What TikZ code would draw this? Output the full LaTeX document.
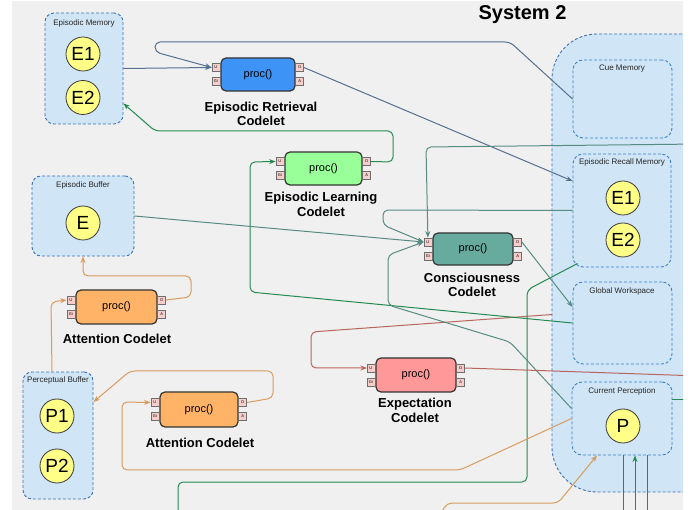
\documentclass[tikz,border=0pt]{standalone}
\usepackage{fontspec}
\setmainfont{Liberation Sans}
\usetikzlibrary{arrows.meta,calc}
\definecolor{bgGray}{HTML}{F0F0F0}
\definecolor{contFill}{HTML}{D0E5F5}
\definecolor{contDraw}{HTML}{3F72B0}
\definecolor{innerDraw}{HTML}{3E7FCC}
\definecolor{circFill}{HTML}{FFFF88}
\definecolor{circDraw}{HTML}{3A3A3A}
\definecolor{portFill}{HTML}{F8CECC}
\definecolor{portDraw}{HTML}{6E6E6E}
\definecolor{cRet}{HTML}{3D94F6}
\definecolor{cLearn}{HTML}{99FF99}
\definecolor{cCons}{HTML}{67AB9F}
\definecolor{cExp}{HTML}{FF9999}
\definecolor{cAtt}{HTML}{FFB366}
\definecolor{lineBlue}{HTML}{56708F}
\definecolor{lineGreen}{HTML}{238A53}
\definecolor{lineTeal}{HTML}{588C83}
\definecolor{lineRed}{HTML}{B86560}
\definecolor{lineOrange}{HTML}{D89C5E}
\newcommand\mkcodelet[6]{%
  \node[codelet, fill=#6, minimum width=#4, minimum height=#5] (#1) at (#2,#3) {proc()};
  \node[port] (#1U) at ($(#1.west)+(-4.5,-7)$) {U};
  \node[port] (#1G) at ($(#1.west)+(-4.5,7)$) {Gi};
  \node[port] (#1O) at ($(#1.east)+(4,-7)$) {O};
  \node[port] (#1A) at ($(#1.east)+(4,7)$) {A};
}
\begin{document}
\begin{tikzpicture}[x=1pt,y=-1pt,
  cont/.style={draw=contDraw, fill=contFill, dash pattern=on 3pt off 2pt, line width=0.9pt, rounded corners=9pt, inner sep=0},
  inner/.style={draw=innerDraw, fill=contFill, dash pattern=on 3pt off 2pt, line width=0.9pt, rounded corners=10pt, inner sep=0},
  ctitle/.style={font=\fontsize{8}{9}\selectfont, text=black!85, inner sep=0},
  circ/.style={circle, draw=circDraw, fill=circFill, line width=0.8pt, minimum size=34pt, inner sep=0, font=\fontsize{19}{19}\selectfont},
  codelet/.style={draw=black!80, line width=1.2pt, rounded corners=5pt, inner sep=0, font=\fontsize{11}{11}\selectfont},
  port/.style={draw=portDraw, fill=portFill, line width=0.6pt, minimum size=8pt, inner sep=0, font=\fontsize{4}{4}\selectfont},
  lbl/.style={font=\bfseries\fontsize{13}{14.5}\selectfont, align=center, inner sep=0},
  conn/.style={line width=1pt, rounded corners=5pt},
  arr/.style={-{Stealth[length=6.5pt,width=5pt]}}
]
\useasboundingbox (0,0) rectangle (691,510);
\fill[white] (0,0) rectangle (691,510);
\fill[bgGray] (12,1) rectangle (683,510);
\begin{scope}
\clip (0,0) rectangle (683,510);

% hidden-behind red line (drawn first)
\coordinate (gwRed) at (573,313);
\node[inner sep=0] (gwanchor) at (gwRed) {};

% containers
\node[cont, minimum width=78pt, minimum height=111pt] (em) at (84,68.5) {};
\node[cont, minimum width=102pt, minimum height=80pt] (eb) at (83,216) {};
\node[cont, minimum width=70pt, minimum height=127pt] (pb) at (58,435.5) {};

\draw[conn, lineRed, arr] (gwanchor) -- (311,332) -- (311,368) -- (367,368);

\node[cont, rounded corners=45pt, minimum width=260pt, minimum height=458pt] (s2) at (682,263) {};
\node[inner, minimum width=99pt, minimum height=78pt] (cm) at (622.5,99) {};
\node[inner, minimum width=98pt, minimum height=113pt] (erm) at (622,210.5) {};
\node[inner, minimum width=99pt, minimum height=82pt] (gw) at (622.5,323) {};
\node[inner, minimum width=100pt, minimum height=73pt] (cp) at (622,418.5) {};

\node[ctitle] (emT) at (84,23) {Episodic Memory};
\node[ctitle] (ebT) at (83,185) {Episodic Buffer};
\node[ctitle] (pbT) at (58,380.5) {Perceptual Buffer};
\node[ctitle] (cmT) at (622,69) {Cue Memory};
\node[ctitle] (ermT) at (622,162) {Episodic Recall Memory};
\node[ctitle] (gwT) at (622,291) {Global Workspace};
\node[ctitle] (cpT) at (622,391) {Current Perception};

\node[font=\bfseries\fontsize{20}{20}\selectfont, inner sep=0] (title) at (522.5,15) {System 2};

% circles
\node[circ] (e1) at (83,54) {E1};
\node[circ] (e2) at (83,97.5) {E2};
\node[circ] (e) at (83,223) {E};
\node[circ] (p1) at (57,416) {P1};
\node[circ] (p2) at (57,466) {P2};
\node[circ] (re1) at (623,198) {E1};
\node[circ] (re2) at (623,240) {E2};
\node[circ] (p) at (623,426) {P};

% codelets
\mkcodelet{rc}{258}{74.5}{74}{33}{cRet}
\mkcodelet{lc}{323.5}{168.5}{77}{33}{cLearn}
\mkcodelet{cc}{473}{249}{80}{32}{cCons}
\mkcodelet{xc}{416}{375}{80}{34}{cExp}
\mkcodelet{aa}{116.5}{307}{81}{34}{cAtt}
\mkcodelet{ab}{199}{409.5}{78}{35}{cAtt}

\node[lbl] (rcL) at (261,114) {Episodic Retrieval\\Codelet};
\node[lbl] (lcL) at (321,204.5) {Episodic Learning\\Codelet};
\node[lbl] (ccL) at (472,285) {Consciousness\\Codelet};
\node[lbl] (xcL) at (415,410.5) {Expectation\\Codelet};
\node[lbl] (aaL) at (117,339) {Attention Codelet};
\node[lbl] (abL) at (200,443) {Attention Codelet};

% free ends
\coordinate (offR1) at (700,144);
\coordinate (offR2) at (700,376);
\coordinate (offR3) at (700,400);
\coordinate (offB1) at (178,515);
\coordinate (offB2) at (440,515);
\coordinate (offB3) at (623,515);
\coordinate (offB4) at (635,515);
\coordinate (offB5) at (647,515);

% connectors: blue
\draw[conn, lineBlue, arr] (em.east) -- (rcU.west);
\draw[conn, lineBlue, arr] (cm.west) -- (510,42) -- (155,42) -- (155,52) -- (rcU.west);
\draw[conn, lineBlue, arr] (rcO.east) -- ([yshift=29.5pt]erm.west);

% green
\draw[conn, lineGreen, arr] (lcO.east) -- (393,162) -- (393,131) -- (155,131) -- ([yshift=-35pt]em.east);
\draw[conn, lineGreen, arr] (gw.west) -- (250,292) -- (250,162) -- (lcU.west);
\draw[conn, lineGreen] (offB1) -- (178,482) -- (527,482) -- (527,290) -- ([xshift=5pt,yshift=4pt]erm.south west);
\draw[conn, lineGreen] ([xshift=1pt]cp.south) -- (offB3);
\draw[conn, lineGreen, arr] (offB4) -- ([xshift=13pt]cp.south);
\draw[conn, lineGreen] ([xshift=25pt]cp.south) -- (offB5);
\draw[conn, lineGreen] ([yshift=18.5pt]cp.east) -- (offR3);

% teal
\draw[conn, lineTeal, arr] (eb.east) -- (ccU.west);
\draw[conn, lineTeal, arr] (erm.west) -- (383,210) -- (383,225) -- (ccU.west);
\draw[conn, lineTeal, arr] (offR1) -- (426,147) -- (ccU.north);
\draw[conn, lineTeal, arr] ([yshift=10pt]cp.west) -- (510,342) -- (388,305) -- (388,255) -- (ccU.west);
\draw[conn, lineTeal, arr] (ccO.east) -- ([yshift=16pt]gw.west);

% red
\draw[conn, lineRed] (xcO.east) -- (offR2);

% orange
\draw[conn, lineOrange, arr] (aaO.east) -- (191,297) -- (191,276) -- (83,276) -- (eb.south);
\draw[conn, lineOrange, arr] ([xshift=-6pt]pb.north) -- (51,302) -- (aaU.west);
\draw[conn, lineOrange, arr] (abO.east) -- (273,398) -- (273,371) -- (130,371) -- ([yshift=33.5pt]pb.east);
\draw[conn, lineOrange, arr] (cp.west) -- (460,470) -- (122,470) -- (122,402) -- (abU.west);
\draw[conn, lineOrange, arr] (offB2) -- (447,503) -- (558,503) -- ([xshift=-25pt]cp.south);
\end{scope}
\end{tikzpicture}
\end{document}
